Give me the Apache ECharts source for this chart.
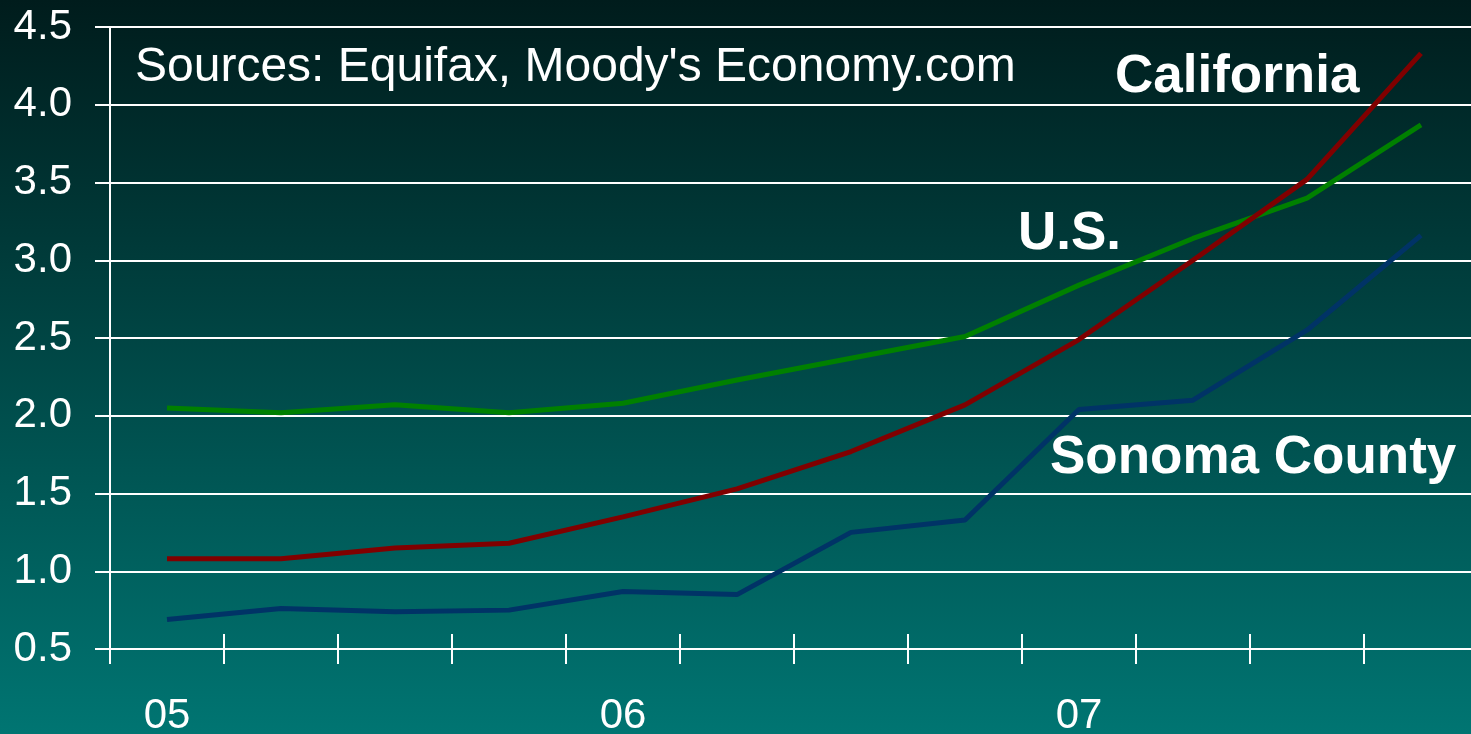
<!DOCTYPE html>
<html>
<head>
<meta charset="utf-8">
<script src="https://cdn.jsdelivr.net/npm/echarts@6/dist/echarts.min.js"></script>
<style>
  html, body { margin: 0; padding: 0; }
  #chart { width: 1471px; height: 734px; }
</style>
</head>
<body>
<div id="chart"></div>
<script>
// quarters 2005 Q1 .. 2007 Q4
const quarters = ['05Q1', '05Q2', '05Q3', '05Q4', '06Q1', '06Q2', '06Q3', '06Q4', '07Q1', '07Q2', '07Q3', '07Q4']
const usValues = [2.05, 2.02, 2.07, 2.02, 2.08, 2.23, 2.37, 2.51, 2.84, 3.14, 3.40, 3.87]
const californiaValues = [1.08, 1.08, 1.15, 1.18, 1.35, 1.53, 1.77, 2.07, 2.49, 3.00, 3.52, 4.33]
const sonomaValues = [0.69, 0.76, 0.74, 0.75, 0.87, 0.85, 1.25, 1.33, 2.04, 2.10, 2.55, 3.16]
const yTicks = [0.5, 1.0, 1.5, 2.0, 2.5, 3.0, 3.5, 4.0, 4.5]

const FONT = '"Liberation Sans", Arial, sans-serif'
const white = '#ffffff'

const chart = echarts.init(document.getElementById('chart'))

// label shown only on first quarter of a year
const yearLabel = (v) => v.endsWith('Q1') ? v.slice(0, 2) : ''

const option = {
  animation: false,
  backgroundColor: {
    type: 'linear', x: 0, y: 0, x2: 0, y2: 1,
    colorStops: [
      { offset: 0, color: '#001c1c' },
      { offset: 1, color: '#007572' }
    ]
  },
  // plot runs a bit past the right edge, like the original slide
  grid: { left: 110, top: 27, width: 1368, height: 622, outerBoundsMode: 'none' },
  xAxis: [{
    type: 'category',
    data: quarters,
    position: 'bottom',
    axisLine: { show: true, lineStyle: { color: white, width: 2 } },
    axisTick: { show: true, inside: false, length: 15, lineStyle: { color: white, width: 2 } },
    axisLabel: {
      interval: 0, color: white, fontSize: 42, lineHeight: 42, fontFamily: FONT, margin: 46,
      formatter: yearLabel
    },
    splitLine: { show: false }
  }, {
    // second axis only to get ticks crossing the axis line
    type: 'category',
    data: quarters,
    position: 'bottom',
    axisLine: { show: false },
    axisTick: { show: true, inside: true, length: 15, lineStyle: { color: white, width: 2 } },
    axisLabel: { show: false },
    splitLine: { show: false }
  }],
  yAxis: [{
    type: 'value',
    min: yTicks[0],
    max: yTicks[yTicks.length - 1],
    interval: 0.5,
    position: 'left',
    axisLine: { show: true, lineStyle: { color: white, width: 2 } },
    axisTick: { show: true, inside: false, length: 15, lineStyle: { color: white, width: 2 } },
    axisLabel: { color: white, fontSize: 42, fontFamily: FONT, margin: 38, formatter: (v) => v.toFixed(1) },
    splitLine: { show: true, lineStyle: { color: white, width: 2 } }
  }, {
    type: 'value',
    min: yTicks[0],
    max: yTicks[yTicks.length - 1],
    interval: 0.5,
    position: 'left',
    axisLine: { show: false },
    axisTick: { show: true, inside: true, length: 15, lineStyle: { color: white, width: 2 } },
    axisLabel: { show: false },
    splitLine: { show: false }
  }],
  series: [{
    name: 'U.S.',
    type: 'line',
    data: usValues,
    symbol: 'none',
    lineStyle: { color: '#008000', width: 5 },
    itemStyle: { color: '#008000' }
  }, {
    name: 'California',
    type: 'line',
    data: californiaValues,
    symbol: 'none',
    lineStyle: { color: '#800000', width: 5 },
    itemStyle: { color: '#800000' }
  }, {
    name: 'Sonoma County',
    type: 'line',
    data: sonomaValues,
    symbol: 'none',
    lineStyle: { color: '#003366', width: 5 },
    itemStyle: { color: '#003366' }
  }],
  graphic: [{
    type: 'text', x: 135, y: 68,
    style: { text: "Sources: Equifax, Moody's Economy.com", fill: white, fontSize: 48, fontFamily: FONT, verticalAlign: 'middle' }
  }, {
    type: 'text', x: 1115, y: 77,
    style: { text: 'California', fill: white, fontSize: 53, fontWeight: 'bold', fontFamily: FONT, verticalAlign: 'middle' }
  }, {
    type: 'text', x: 1018, y: 234,
    style: { text: 'U.S.', fill: white, fontSize: 53, fontWeight: 'bold', fontFamily: FONT, verticalAlign: 'middle' }
  }, {
    type: 'text', x: 1050, y: 458,
    style: { text: 'Sonoma County', fill: white, fontSize: 53, fontWeight: 'bold', fontFamily: FONT, verticalAlign: 'middle' }
  }]
}

chart.setOption(option)
</script>
</body>
</html>
